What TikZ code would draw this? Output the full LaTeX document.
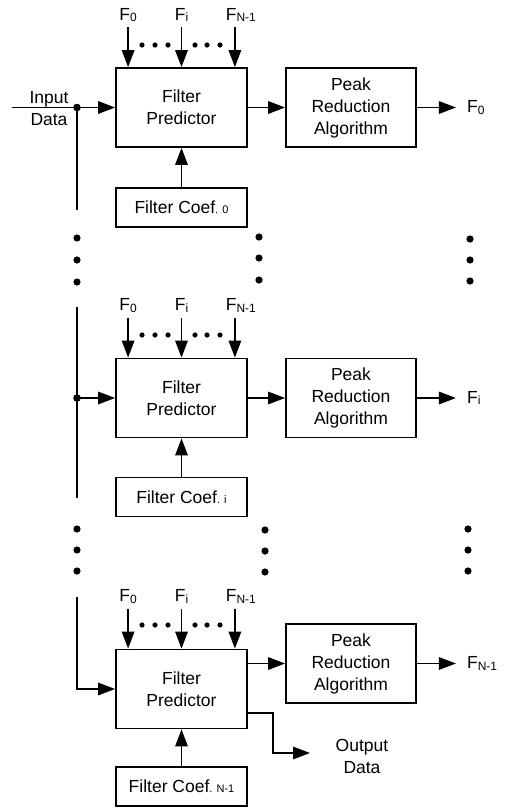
\documentclass[tikz,border=0pt]{standalone}
\usepackage{fontspec}
\setmainfont{Liberation Sans}
\usetikzlibrary{arrows.meta, positioning, calc}

\newcommand{\sidx}[1]{\raisebox{-1.5pt}{\fontsize{12}{12}\selectfont #1}}
\newcommand{\cidx}[1]{{\fontsize{11}{11}\selectfont #1}}

\begin{document}
\begin{tikzpicture}[
        x=1pt, y=-1pt,
        >={Triangle[length=17pt, width=12.5pt]},
        every node/.style={font=\fontsize{17.5}{22}\selectfont},
        predbox/.style={draw, line width=1.8pt, minimum width=131pt, minimum height=79pt, align=center, inner sep=0pt},
        peakbox/.style={draw, line width=1.8pt, minimum width=130pt, minimum height=79pt, align=center, inner sep=0pt},
        coefbox/.style={draw, line width=1.8pt, minimum width=131pt, minimum height=39pt, inner sep=0pt},
        lbl/.style={inner xsep=2pt, inner ysep=5pt, align=center},
        outlbl/.style={anchor=west, inner xsep=11pt, inner ysep=2pt},
        wire/.style={line width=1.6pt},
        arr/.style={wire, ->}
    ]
    \useasboundingbox (0,0) rectangle (507,812);

    % --- Block 0 ---
    \node[predbox] (pred1) at (181.5,107.5) {Filter\\Predictor};
    \node[peakbox] (peak1) at (351,107.5) {Peak\\Reduction\\Algorithm};
    \node[coefbox] (coef1) at (181.5,207.5) {Filter Coef\cidx{. 0}};
    \node[outlbl] (out1) at ([xshift=39pt]peak1.east) {F\sidx{0}};

    \coordinate (t1a) at ([xshift=13pt]pred1.north west);
    \coordinate (t1c) at ([xshift=-13pt]pred1.north east);
    \node[lbl, above=40pt of t1a] (f1a) {F\sidx{0}};
    \node[lbl, above=40pt of pred1.north] (f1b) {F\sidx{i}};
    \node[lbl, above=40pt of t1c, xshift=6pt] (f1c) {F\sidx{N-1}};
    \draw[arr] (f1a.south -| t1a) -- (t1a);
    \draw[arr] (f1b.south) -- (pred1.north);
    \draw[arr] (f1c.south -| t1c) -- (t1c);
    \fill (142,45) circle (2.6pt) (155,45) circle (2.6pt) (168,45) circle (2.6pt)
          (195,45) circle (2.6pt) (207,45) circle (2.6pt) (220,45) circle (2.6pt);

    % input data and bus
    \node[lbl] (indata) at (49,109) {Input\\Data};
    \coordinate (instart) at (12,107.5);
    \coordinate (j1) at (77,107.5);
    \coordinate (bus1bot) at (77,210);
    \draw[wire] (instart) -- (j1) -- (bus1bot);
    \fill (j1) circle (3.8pt);
    \draw[arr] (j1) -- (pred1);
    \draw[arr] (pred1) -- (peak1);
    \draw[arr] (peak1) -- (out1);
    \draw[arr] (coef1) -- (pred1);

    % --- dots between block 0 and block i ---
    \fill (77,238) circle (3.6pt) (77,260) circle (3.6pt) (77,282) circle (3.6pt);
    \fill (259,237) circle (3.6pt) (259,258) circle (3.6pt) (259,280) circle (3.6pt);
    \fill (470,239) circle (3.6pt) (470,260) circle (3.6pt) (470,281) circle (3.6pt);

    % --- Block i ---
    \node[predbox] (pred2) at (181.5,398) {Filter\\Predictor};
    \node[peakbox] (peak2) at (351,398) {Peak\\Reduction\\Algorithm};
    \node[coefbox] (coef2) at (181.5,497) {Filter Coef\cidx{. i}};
    \node[outlbl] (out2) at ([xshift=39pt]peak2.east) {F\sidx{i}};

    \coordinate (t2a) at ([xshift=13pt]pred2.north west);
    \coordinate (t2c) at ([xshift=-13pt]pred2.north east);
    \node[lbl, above=40pt of t2a] (f2a) {F\sidx{0}};
    \node[lbl, above=40pt of pred2.north] (f2b) {F\sidx{i}};
    \node[lbl, above=40pt of t2c, xshift=6pt] (f2c) {F\sidx{N-1}};
    \draw[arr] (f2a.south -| t2a) -- (t2a);
    \draw[arr] (f2b.south) -- (pred2.north);
    \draw[arr] (f2c.south -| t2c) -- (t2c);
    \fill (142,335) circle (2.6pt) (155,335) circle (2.6pt) (168,335) circle (2.6pt)
          (195,335) circle (2.6pt) (207,335) circle (2.6pt) (220,335) circle (2.6pt);

    \coordinate (bus2top) at (77,307);
    \coordinate (bus2bot) at (77,498);
    \coordinate (j2) at (bus2top |- pred2.west);
    \draw[wire] (bus2top) -- (bus2bot);
    \fill (j2) circle (3.8pt);
    \draw[arr] (j2) -- (pred2);
    \draw[arr] (pred2) -- (peak2);
    \draw[arr] (peak2) -- (out2);
    \draw[arr] (coef2) -- (pred2);

    % --- dots between block i and block N-1 ---
    \fill (77,529) circle (3.6pt) (77,550) circle (3.6pt) (77,571) circle (3.6pt);
    \fill (265,530) circle (3.6pt) (265,551) circle (3.6pt) (265,572) circle (3.6pt);
    \fill (468,529) circle (3.6pt) (468,550) circle (3.6pt) (468,571) circle (3.6pt);

    % --- Block N-1 ---
    \node[predbox] (pred3) at (181.5,689) {Filter\\Predictor};
    \node[peakbox] (peak3) at (351,663.5) {Peak\\Reduction\\Algorithm};
    \node[coefbox] (coef3) at (181.5,786.5) {Filter Coef\cidx{. N-1}};
    \node[outlbl] (out3) at ([xshift=39pt]peak3.east) {F\sidx{N-1}};

    \coordinate (t3a) at ([xshift=13pt]pred3.north west);
    \coordinate (t3c) at ([xshift=-13pt]pred3.north east);
    \node[lbl, above=40pt of t3a] (f3a) {F\sidx{0}};
    \node[lbl, above=40pt of pred3.north] (f3b) {F\sidx{i}};
    \node[lbl, above=40pt of t3c, xshift=6pt] (f3c) {F\sidx{N-1}};
    \draw[arr] (f3a.south -| t3a) -- (t3a);
    \draw[arr] (f3b.south) -- (pred3.north);
    \draw[arr] (f3c.south -| t3c) -- (t3c);
    \fill (142,625) circle (2.6pt) (155,625) circle (2.6pt) (168,625) circle (2.6pt)
          (195,625) circle (2.6pt) (207,625) circle (2.6pt) (220,625) circle (2.6pt);

    \coordinate (bus3top) at (77,597);
    \draw[arr] (bus3top) |- (pred3.west);
    \draw[arr] (pred3.east |- peak3.west) -- (peak3.west);
    \draw[arr] (peak3) -- (out3);
    \draw[arr] (coef3) -- (pred3);

    % output data
    \node[lbl] (outdata) at (362,756) {Output\\Data};
    \coordinate (outend) at (310,753);
    \draw[arr] ([yshift=-24pt]pred3.east) -- ++(25,0) |- (outend);
\end{tikzpicture}
\end{document}
